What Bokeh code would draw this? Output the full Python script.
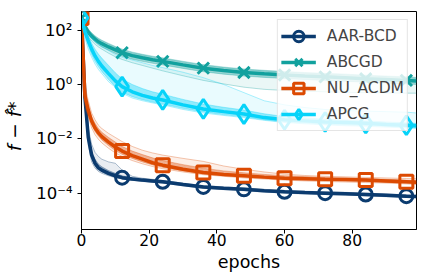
from bokeh.plotting import figure
from bokeh.models import Range1d, FixedTicker, Legend, LegendItem
from bokeh.embed import file_html
from bokeh.resources import INLINE

# epochs at which values were read (values are log10 of f - f*)
epochs = [0, 1, 2, 3, 4, 5, 6, 8, 10, 12, 15, 18, 21, 24, 30, 36, 42, 48, 54, 60, 66, 72, 78, 84, 90, 96, 99]
marker_epochs = [0, 12, 24, 36, 48, 60, 72, 84, 96]

aar_main = [2.45, -0.45, -1.95, -2.6, -2.9, -3.07, -3.15, -3.27, -3.36, -3.43, -3.48, -3.52, -3.55, -3.58, -3.68, -3.77, -3.82, -3.86, -3.91, -3.95, -3.98, -4.0, -4.02, -4.05, -4.08, -4.11, -4.12]
aar_in_hi = [2.45, -0.3, -1.8, -2.45, -2.75, -2.93, -3.03, -3.17, -3.27, -3.36, -3.43, -3.48, -3.52, -3.55, -3.65, -3.74, -3.79, -3.83, -3.88, -3.92, -3.95, -3.97, -3.99, -4.02, -4.05, -4.08, -4.09]
aar_in_lo = [2.45, -0.55, -2.1, -2.72, -3.0, -3.15, -3.22, -3.33, -3.41, -3.47, -3.52, -3.56, -3.59, -3.62, -3.71, -3.8, -3.85, -3.89, -3.94, -3.98, -4.01, -4.03, -4.05, -4.08, -4.11, -4.14, -4.15]
aar_out_hi = [2.45, -0.2, -1.6, -2.2, -2.5, -2.65, -2.75, -2.85, -2.9, -3.15, -3.38, -3.45, -3.49, -3.53, -3.63, -3.72, -3.77, -3.81, -3.86, -3.9, -3.93, -3.95, -3.97, -4.0, -4.03, -4.06, -4.07]
aar_out_lo = [2.45, -0.7, -2.25, -2.85, -3.08, -3.2, -3.27, -3.36, -3.43, -3.48, -3.53, -3.57, -3.6, -3.63, -3.73, -3.82, -3.87, -3.91, -3.96, -4.0, -4.03, -4.05, -4.07, -4.1, -4.13, -4.16, -4.17]

abc_main = [2.45, 2.15, 1.92, 1.78, 1.67, 1.57, 1.5, 1.38, 1.27, 1.17, 1.06, 0.98, 0.91, 0.85, 0.72, 0.6, 0.51, 0.44, 0.39, 0.35, 0.31, 0.28, 0.25, 0.21, 0.18, 0.15, 0.13]
abc_in_hi = [2.45, 2.22, 2.02, 1.88, 1.77, 1.68, 1.61, 1.49, 1.38, 1.28, 1.17, 1.09, 1.02, 0.96, 0.83, 0.71, 0.62, 0.55, 0.5, 0.46, 0.42, 0.39, 0.36, 0.32, 0.29, 0.26, 0.24]
abc_in_lo = [2.45, 2.08, 1.83, 1.68, 1.56, 1.46, 1.38, 1.26, 1.14, 1.04, 0.93, 0.85, 0.78, 0.72, 0.59, 0.47, 0.38, 0.31, 0.26, 0.22, 0.18, 0.15, 0.12, 0.08, 0.05, 0.02, 0.0]
abc_out_hi = [2.45, 2.24, 2.04, 1.9, 1.79, 1.7, 1.63, 1.51, 1.4, 1.3, 1.19, 1.11, 1.04, 0.98, 0.85, 0.73, 0.64, 0.57, 0.52, 0.48, 0.44, 0.41, 0.38, 0.34, 0.31, 0.28, 0.26]
abc_out_lo = [2.45, 2.0, 1.75, 1.6, 1.48, 1.38, 1.3, 1.15, 1.02, 0.92, 0.8, 0.7, 0.6, 0.5, 0.32, 0.15, 0.02, -0.1, -0.18, -0.22, -0.25, -0.27, -0.29, -0.3, -0.31, -0.32, -0.32]

nu_main = [2.45, -0.4, -0.95, -1.35, -1.6, -1.78, -1.92, -2.12, -2.3, -2.45, -2.62, -2.75, -2.88, -2.97, -3.12, -3.24, -3.31, -3.36, -3.41, -3.45, -3.47, -3.49, -3.5, -3.52, -3.55, -3.58, -3.6]
nu_in_hi = [2.45, -0.2, -0.75, -1.18, -1.43, -1.62, -1.76, -1.95, -2.12, -2.28, -2.45, -2.58, -2.7, -2.8, -2.95, -3.08, -3.18, -3.25, -3.31, -3.36, -3.39, -3.42, -3.44, -3.46, -3.49, -3.52, -3.54]
nu_in_lo = [2.45, -0.6, -1.1, -1.48, -1.73, -1.9, -2.04, -2.25, -2.43, -2.57, -2.72, -2.85, -2.96, -3.05, -3.18, -3.29, -3.35, -3.4, -3.45, -3.49, -3.51, -3.53, -3.55, -3.57, -3.6, -3.63, -3.65]
nu_out_hi = [2.45, 0.0, -0.6, -1.05, -1.3, -1.5, -1.62, -1.8, -1.95, -2.1, -2.28, -2.42, -2.52, -2.6, -2.72, -2.83, -3.0, -3.12, -3.22, -3.3, -3.35, -3.38, -3.4, -3.42, -3.44, -3.46, -3.47]
nu_out_lo = [2.45, -0.8, -1.2, -1.6, -1.85, -2.02, -2.15, -2.35, -2.52, -2.65, -2.8, -2.92, -3.02, -3.1, -3.22, -3.32, -3.38, -3.44, -3.48, -3.52, -3.55, -3.57, -3.59, -3.61, -3.63, -3.66, -3.68]

apcg_main = [2.45, 1.95, 1.6, 1.3, 1.05, 0.85, 0.68, 0.4, 0.13, -0.08, -0.27, -0.4, -0.5, -0.57, -0.75, -0.9, -1.0, -1.09, -1.22, -1.3, -1.34, -1.38, -1.4, -1.43, -1.47, -1.5, -1.52]
apcg_in_hi = [2.45, 2.05, 1.78, 1.52, 1.3, 1.12, 0.97, 0.7, 0.43, 0.2, 0.0, -0.15, -0.27, -0.36, -0.55, -0.72, -0.84, -0.94, -1.08, -1.18, -1.23, -1.28, -1.31, -1.34, -1.38, -1.41, -1.43]
apcg_in_lo = [2.45, 1.82, 1.42, 1.1, 0.85, 0.65, 0.48, 0.18, -0.08, -0.28, -0.45, -0.56, -0.65, -0.72, -0.88, -1.01, -1.11, -1.19, -1.3, -1.38, -1.42, -1.46, -1.49, -1.51, -1.54, -1.57, -1.59]
apcg_out_hi = [2.45, 2.1, 1.9, 1.75, 1.6, 1.5, 1.4, 1.25, 1.1, 1.0, 0.9, 0.8, 0.7, 0.62, 0.45, 0.25, 0.0, -0.3, -0.6, -0.75, -0.85, -0.92, -0.96, -0.98, -1.0, -1.02, -1.05]
apcg_out_lo = [2.45, 1.7, 1.3, 1.0, 0.75, 0.55, 0.4, 0.1, -0.1, -0.32, -0.5, -0.6, -0.68, -0.75, -0.92, -1.05, -1.14, -1.22, -1.32, -1.4, -1.45, -1.49, -1.52, -1.54, -1.57, -1.6, -1.62]

names = ["AAR-BCD", "ABCGD", "NU_ACDM", "APCG"]
colors = ["#0b3b6f", "#12a19e", "#dc4a02", "#07d3f9"]
markers = ["circle", "x", "square", "diamond"]
marker_sizes = [13, 16, 13, 19]

y_ticks = [1e-4, 1e-2, 1, 1e2]
y_tick_labels = {1e-4: "10\u207b\u2074", 1e-2: "10\u207b\u00b2", 1: "10\u2070", 1e2: "10\u00b2"}
x_ticks = [0, 20, 40, 60, 80]

series = [
    (aar_main, aar_in_hi, aar_in_lo, aar_out_hi, aar_out_lo),
    (abc_main, abc_in_hi, abc_in_lo, abc_out_hi, abc_out_lo),
    (nu_main, nu_in_hi, nu_in_lo, nu_out_hi, nu_out_lo),
    (apcg_main, apcg_in_hi, apcg_in_lo, apcg_out_hi, apcg_out_lo),
]


def lin(vals):
    return [10 ** v for v in vals]


p = figure(frame_width=335, frame_height=218, y_axis_type="log", output_backend="svg",
           toolbar_location=None, x_range=Range1d(0, 99), y_range=Range1d(4.6e-6, 484),
           min_border_left=81, min_border_right=8, min_border_top=11, min_border_bottom=48)
p.background_fill_color = "white"
p.border_fill_color = "white"
p.outline_line_color = "black"
p.outline_line_width = 1
p.outline_line_alpha = 1
p.xgrid.visible = False
p.ygrid.visible = False

items = []
for (main, ihi, ilo, ohi, olo), name, col, mk, ms in zip(series, names, colors, markers, marker_sizes):
    p.varea(x=epochs, y1=lin(olo), y2=lin(ohi), fill_color=col, fill_alpha=0.09)
    p.varea(x=epochs, y1=lin(ilo), y2=lin(ihi), fill_color=col, fill_alpha=0.38)
    p.line(epochs, lin(ohi), line_color=col, line_width=0.8, line_alpha=0.4)
    p.line(epochs, lin(olo), line_color=col, line_width=0.8, line_alpha=0.4)
    p.line(epochs, lin(ihi), line_color=col, line_width=0.8, line_alpha=0.4)
    p.line(epochs, lin(ilo), line_color=col, line_width=0.8, line_alpha=0.4)
    r_line = p.line(epochs, lin(main), line_color=col, line_width=3.5)
    mx = [e for e in epochs if e in marker_epochs]
    my = [10 ** v for e, v in zip(epochs, main) if e in marker_epochs]
    r_mark = p.scatter(mx, my, marker=mk, size=ms, line_color=col, line_width=3,
                       fill_color="white", fill_alpha=0.0)
    items.append(LegendItem(label=name, renderers=[r_line, r_mark]))

legend = Legend(items=items, location="top_right", margin=8, padding=3, spacing=-3,
                glyph_width=35, glyph_height=26, label_standoff=11,
                label_text_font="DejaVu Sans", label_text_font_size="15.5px",
                label_height=20,
                border_line_color="#cccccc", border_line_width=1,
                background_fill_color="white", background_fill_alpha=0.8)
p.add_layout(legend, "center")

for ax in (p.xaxis[0], p.yaxis[0]):
    ax.major_tick_out = 4
    ax.major_tick_in = 0
    ax.minor_tick_out = 0
    ax.minor_tick_in = 0
    ax.major_tick_line_color = "black"
    ax.axis_line_color = "black"
    ax.major_label_text_font = "DejaVu Sans"
    ax.major_label_text_font_size = "15.5px"
    ax.major_label_text_color = "black"
    ax.axis_label_text_font = "DejaVu Sans"
    ax.axis_label_text_font_size = "17.5px"
    ax.axis_label_text_font_style = "normal"
    ax.axis_label_text_color = "black"

p.xaxis.ticker = FixedTicker(ticks=x_ticks)
p.xaxis.major_label_standoff = 0
p.xaxis.axis_label = "epochs"
p.xaxis.axis_label_standoff = 3

p.yaxis.ticker = FixedTicker(ticks=y_ticks)
p.yaxis.major_label_overrides = y_tick_labels
p.yaxis.major_label_text_font_size = "16.5px"
p.yaxis.major_label_standoff = 5
p.yaxis.axis_label = "f \u2212 f\u0302*\u00a0\u00a0"
p.yaxis.axis_label_text_font_style = "italic"
p.yaxis.axis_label_text_font_size = "18.5px"
p.yaxis.axis_label_standoff = 8

open("out.html", "w").write(file_html(p, INLINE))
